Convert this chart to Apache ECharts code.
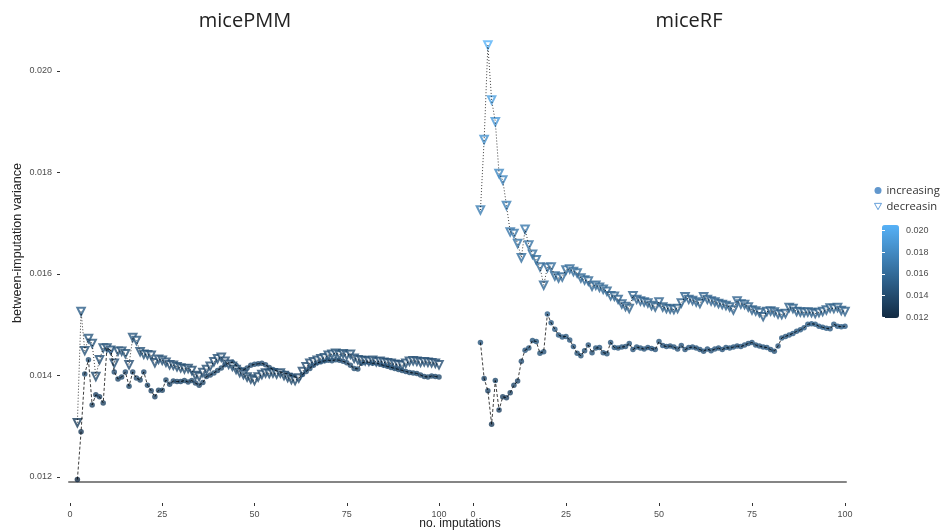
<!DOCTYPE html>
<html>
<head>
<meta charset="utf-8">
<script src="https://cdn.jsdelivr.net/npm/echarts@6/dist/echarts.min.js"></script>
<style>html,body{margin:0;padding:0;background:#fff}#c{width:947px;height:532px}</style>
</head>
<body>
<div id="c"></div>
<script>
// number of imputations (x), 2..100
const imputations = Array.from({length: 99}, (_, i) => i + 2);

// micePMM
const pmmIncreasing = [
  0.01195,0.01289,0.01403,0.01431,0.01342,0.01362,0.01358,0.01346,0.01454,0.01450,
  0.01407,0.01393,0.01397,0.01407,0.01379,0.01407,0.01395,0.01391,0.01407,0.01381,
  0.01370,0.01358,0.01371,0.01371,0.01391,0.01383,0.01389,0.01388,0.01388,0.01390,
  0.01387,0.01390,0.01385,0.01381,0.01386,0.01398,0.01401,0.01405,0.01410,0.01415,
  0.01421,0.01425,0.01426,0.01420,0.01413,0.01411,0.01415,0.01420,0.01422,0.01423,
  0.01424,0.01421,0.01416,0.01412,0.01409,0.01407,0.01405,0.01403,0.01400,0.01397,
  0.01395,0.01402,0.01408,0.01414,0.01420,0.01425,0.01427,0.01429,0.01430,0.01429,
  0.01431,0.01430,0.01428,0.01425,0.01420,0.01414,0.01413,0.01424,0.01427,0.01426,
  0.01424,0.01425,0.01422,0.01420,0.01418,0.01416,0.01414,0.01412,0.01410,0.01408,
  0.01406,0.01405,0.01404,0.01401,0.01398,0.01397,0.01399,0.01398,0.01397
];
const pmmDecreasing = [
  0.01307,0.01526,0.01449,0.01473,0.01463,0.01398,0.01431,0.01454,0.01454,0.01450,
  0.01424,0.01448,0.01448,0.01443,0.01421,0.01475,0.01469,0.01447,0.01442,0.01441,
  0.01440,0.01425,0.01432,0.01430,0.01426,0.01421,0.01420,0.01417,0.01415,0.01413,
  0.01414,0.01410,0.01400,0.01398,0.01406,0.01412,0.01418,0.01427,0.01433,0.01436,
  0.01428,0.01422,0.01418,0.01412,0.01406,0.01402,0.01397,0.01393,0.01390,0.01397,
  0.01402,0.01405,0.01404,0.01405,0.01403,0.01405,0.01400,0.01396,0.01392,0.01390,
  0.01395,0.01408,0.01417,0.01424,0.01427,0.01430,0.01433,0.01435,0.01440,0.01442,
  0.01444,0.01441,0.01443,0.01440,0.01442,0.01434,0.01431,0.01430,0.01429,0.01428,
  0.01430,0.01427,0.01428,0.01426,0.01425,0.01424,0.01422,0.01421,0.01420,0.01424,
  0.01428,0.01429,0.01428,0.01426,0.01427,0.01426,0.01425,0.01424,0.01421
];

// miceRF
const rfIncreasing = [
  0.01465,0.01394,0.01370,0.01304,0.01390,0.01332,0.01358,0.01356,0.01366,0.01381,
  0.01389,0.01428,0.01450,0.01454,0.01469,0.01467,0.01444,0.01447,0.01521,0.01504,
  0.01491,0.01480,0.01476,0.01477,0.01470,0.01457,0.01444,0.01439,0.01449,0.01460,
  0.01445,0.01454,0.01455,0.01445,0.01443,0.01465,0.01455,0.01454,0.01456,0.01457,
  0.01463,0.01451,0.01456,0.01454,0.01452,0.01455,0.01453,0.01451,0.01467,0.01459,
  0.01457,0.01458,0.01456,0.01452,0.01459,0.01451,0.01455,0.01456,0.01454,0.01451,
  0.01448,0.01452,0.01449,0.01452,0.01454,0.01451,0.01455,0.01454,0.01456,0.01458,
  0.01457,0.01460,0.01463,0.01465,0.01460,0.01458,0.01456,0.01455,0.01451,0.01448,
  0.01458,0.01474,0.01477,0.01480,0.01483,0.01487,0.01490,0.01494,0.01501,0.01502,
  0.01501,0.01497,0.01495,0.01493,0.01492,0.01501,0.01497,0.01496,0.01497
];
const rfDecreasing = [
  0.01726,0.01865,0.02051,0.01943,0.01900,0.01798,0.01785,0.01735,0.01683,0.01680,
  0.01660,0.01632,0.01688,0.01657,0.01639,0.01628,0.01614,0.01578,0.01613,0.01614,
  0.01596,0.01592,0.01594,0.01608,0.01610,0.01605,0.01602,0.01592,0.01588,0.01586,
  0.01576,0.01578,0.01574,0.01570,0.01566,0.01557,0.01556,0.01550,0.01541,0.01536,
  0.01532,0.01557,0.01550,0.01547,0.01545,0.01543,0.01538,0.01535,0.01545,0.01535,
  0.01532,0.01531,0.01530,0.01532,0.01543,0.01555,0.01550,0.01548,0.01545,0.01542,
  0.01555,0.01550,0.01547,0.01545,0.01542,0.01540,0.01538,0.01535,0.01529,0.01547,
  0.01541,0.01540,0.01535,0.01529,0.01527,0.01524,0.01516,0.01526,0.01527,0.01525,
  0.01521,0.01520,0.01522,0.01534,0.01532,0.01526,0.01525,0.01524,0.01525,0.01524,
  0.01522,0.01524,0.01526,0.01529,0.01533,0.01532,0.01534,0.01528,0.01526
];

const panelTitles = ['micePMM', 'miceRF'];
const seriesNames = ['increasing', 'decreasing'];
const xTickStep = 25;
const yTickStep = 0.002;
const yMin = 0.012, yMax = 0.020;

const pairs = vals => vals.map((v, i) => [imputations[i], v]);
const allVals = pmmIncreasing.concat(pmmDecreasing, rfIncreasing, rfDecreasing);
const dataMin = Math.min(...allVals), dataMax = Math.max(...allVals);

// colourbar geometry (layout only)
const barLeft = 882, barTop = 225, barW = 17, barH = 93;
const pxPerUnit = barH / (dataMax - dataMin);
const cbTop = barTop + (dataMax - yMax) * pxPerUnit;
const cbH = (yMax - yMin) * pxPerUnit;

const labelFont = 'Liberation Sans, Arial, sans-serif';
const titleFont = 'Open Sans, sans-serif';

const chart = echarts.init(document.getElementById('c'), null, {renderer: 'canvas'});

const mainX = (gi) => ({
  gridIndex: gi, type: 'value', min: 0, max: 100, interval: xTickStep, offset: 26,
  axisLine: {show: false},
  axisTick: {show: true, length: 3, lineStyle: {color: '#333', width: 1}},
  axisLabel: {fontSize: 9, color: '#4d4d4d', margin: 7, fontFamily: labelFont},
  splitLine: {show: false}
});

const lineSeries = (gi, vals, dash) => ({
  type: 'line', xAxisIndex: gi, yAxisIndex: gi, data: pairs(vals), clip: false,
  showSymbol: false, symbol: 'none', silent: true, z: 3,
  lineStyle: {color: '#000', width: 0.9, type: dash, opacity: 0.85}
});
const incScatter = (gi, vals) => ({
  name: seriesNames[0], type: 'scatter', xAxisIndex: gi, yAxisIndex: gi, clip: false,
  data: pairs(vals), symbol: 'circle', symbolSize: 5.5, z: 2
});
const decScatter = (gi, vals) => ({
  name: seriesNames[1], type: 'scatter', xAxisIndex: gi, yAxisIndex: gi, clip: false,
  data: pairs(vals), symbol: 'emptyTriangle', symbolRotate: 180, symbolSize: 7.5, z: 2,
  itemStyle: {borderWidth: 0.8}
});

chart.setOption({
  backgroundColor: '#fff',
  animation: false,
  textStyle: {fontFamily: labelFont},
  grid: [
    {left: 70, width: 369, top: 71, height: 406},
    {left: 473, width: 372, top: 71, height: 406},
    {left: 69, width: 777, top: 71, height: 411},
    {left: barLeft, width: barW, top: cbTop, height: cbH},
    {left: 60, width: 10, top: 71, height: 406}
  ],
  xAxis: [
    mainX(0),
    mainX(1),
    {gridIndex: 2, type: 'value', min: 0, max: 1, axisLine: {show: true, lineStyle: {color: '#858585', width: 2}},
     axisTick: {show: false}, axisLabel: {show: false}, splitLine: {show: false}},
    {gridIndex: 3, type: 'value', show: false},
    {gridIndex: 4, type: 'value', show: false}
  ],
  yAxis: [
    {gridIndex: 0, type: 'value', min: yMin, max: yMax, show: false},
    {gridIndex: 1, type: 'value', min: yMin, max: yMax, show: false},
    {gridIndex: 2, type: 'value', show: false},
    {gridIndex: 3, type: 'value', min: yMin, max: yMax, interval: yTickStep, position: 'right', z: 10,
     axisLine: {show: false},
     axisTick: {show: true, inside: true, length: 3, lineStyle: {color: '#fff', width: 1}},
     axisLabel: {fontSize: 9, color: '#4d4d4d', margin: 7, fontFamily: labelFont,
                 formatter: v => v.toFixed(3)},
     splitLine: {show: false}},
    {gridIndex: 3, type: 'value', min: yMin, max: yMax, interval: yTickStep, position: 'left', z: 10,
     axisLine: {show: false},
     axisTick: {show: true, inside: true, length: 3, lineStyle: {color: '#fff', width: 1}},
     axisLabel: {show: false}, splitLine: {show: false}},
    {gridIndex: 4, type: 'value', min: yMin, max: yMax, interval: yTickStep, position: 'left',
     axisLine: {show: false},
     axisTick: {show: true, length: 3, lineStyle: {color: '#333'}},
     axisLabel: {fontSize: 9, color: '#4d4d4d', margin: 8, fontFamily: labelFont,
                 formatter: v => v.toFixed(3)},
     splitLine: {show: false}}
  ],
  visualMap: {
    type: 'continuous', seriesIndex: [4, 5, 6, 7], dimension: 1,
    min: dataMin, max: dataMax, calculable: false, hoverLink: false,
    inRange: {color: ['#132B43', '#56B1F7']},
    left: barLeft, top: barTop, itemWidth: barW, itemHeight: barH,
    padding: 0, text: ['', ''], showLabel: false
  },
  legend: {
    orient: 'vertical', left: 874, top: 185, itemWidth: 7, itemHeight: 7, itemGap: 5,
    padding: 0, selectedMode: false,
    textStyle: {fontSize: 11.2, color: '#333', fontFamily: titleFont, width: 55.5, overflow: 'truncate', ellipsis: ''},
    data: [
      {name: seriesNames[0], icon: 'circle', itemStyle: {color: '#3a7dc0'}},
      {name: seriesNames[1], icon: 'path://M0,0L10,0L5,9Z',
       itemStyle: {color: '#fff', borderColor: '#3f87cf', borderWidth: 1}}
    ]
  },
  graphic: [
    {type: 'text', x: 245, y: 21, style: {text: panelTitles[0], textAlign: 'center', align: 'center',
      textVerticalAlign: 'middle', verticalAlign: 'middle', fontSize: 20, fontFamily: titleFont, fill: '#222'}},
    {type: 'text', x: 689, y: 21, style: {text: panelTitles[1], textAlign: 'center', align: 'center',
      textVerticalAlign: 'middle', verticalAlign: 'middle', fontSize: 20, fontFamily: titleFont, fill: '#222'}},
    {type: 'text', x: 18, y: 243, rotation: Math.PI / 2, style: {text: 'between-imputation variance',
      textAlign: 'center', align: 'center', textVerticalAlign: 'middle', verticalAlign: 'middle',
      fontSize: 12.5, fontFamily: labelFont, fill: '#222'}},
    {type: 'text', x: 460, y: 524, style: {text: 'no. imputations', textAlign: 'center', align: 'center',
      textVerticalAlign: 'middle', verticalAlign: 'middle', fontSize: 12, fontFamily: labelFont, fill: '#222'}}
  ],
  series: [
    lineSeries(0, pmmIncreasing, [3, 2]),
    lineSeries(0, pmmDecreasing, [1, 2]),
    lineSeries(1, rfIncreasing, [3, 2]),
    lineSeries(1, rfDecreasing, [1, 2]),
    incScatter(0, pmmIncreasing),
    decScatter(0, pmmDecreasing),
    incScatter(1, rfIncreasing),
    decScatter(1, rfDecreasing)
  ]
});
</script>
</body>
</html>
